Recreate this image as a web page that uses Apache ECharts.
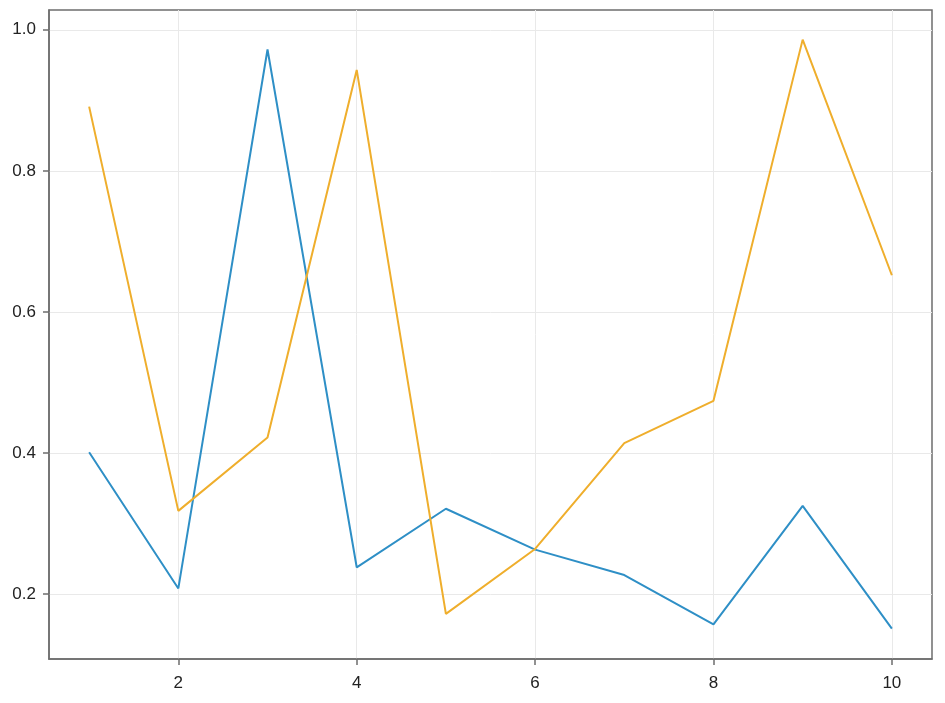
<!DOCTYPE html>
<html>
<head>
<meta charset="utf-8">
<script src="https://cdn.jsdelivr.net/npm/echarts@6/dist/echarts.min.js"></script>
<style>
  html, body { margin: 0; padding: 0; background: #fff; }
  #chart { width: 945px; height: 703px; }
</style>
</head>
<body>
<div id="chart"></div>
<script>
// 数据
var xValues = [1, 2, 3, 4, 5, 6, 7, 8, 9, 10];
var blueValues = [0.401, 0.208, 0.972, 0.238, 0.321, 0.263, 0.227, 0.157, 0.325, 0.151];
var orangeValues = [0.891, 0.318, 0.422, 0.943, 0.172, 0.264, 0.414, 0.474, 0.986, 0.652];
var xTicks = [2, 4, 6, 8, 10];
var yTicks = [0.2, 0.4, 0.6, 0.8, 1.0];

function pairs(ys) {
  return xValues.map(function (x, i) { return [x, ys[i]]; });
}

var gridStyle = { color: '#e9e9e9', width: 1, type: 'solid' };
var frameColor = '#6e6e6e';
var labelStyle = { color: '#222', fontSize: 17, fontFamily: 'Liberation Sans, Arial, sans-serif' };

var myChart = echarts.init(document.getElementById('chart'));
var option = {
  animation: false,
  grid: {
    left: 49, right: 13, top: 10, bottom: 44,
    show: true, borderColor: frameColor, borderWidth: 1.5
  },
  xAxis: {
    type: 'value',
    min: 0.55,
    max: 10.45,
    axisLine: { show: true, lineStyle: { color: frameColor, width: 1.5 } },
    axisTick: { show: true, customValues: xTicks, length: 6, lineStyle: { color: frameColor, width: 1.5 } },
    axisLabel: Object.assign({ customValues: xTicks, margin: 16 }, labelStyle),
    splitLine: { show: true, lineStyle: gridStyle }
  },
  yAxis: {
    type: 'value',
    min: 0.108,
    max: 1.028,
    axisLine: { show: true, lineStyle: { color: frameColor, width: 1.5 } },
    axisTick: { show: true, customValues: yTicks, length: 6, lineStyle: { color: frameColor, width: 1.5 } },
    axisLabel: Object.assign({
      customValues: yTicks, margin: 13,
      formatter: function (v) { return v.toFixed(1); }
    }, labelStyle),
    splitLine: { show: true, lineStyle: gridStyle }
  },
  series: [
    {
      name: 'blue',
      type: 'line',
      data: pairs(blueValues),
      showSymbol: false,
      lineStyle: { color: '#2e8fc6', width: 2 },
      itemStyle: { color: '#2e8fc6' },
      z: 3
    },
    {
      name: 'orange',
      type: 'line',
      data: pairs(orangeValues),
      showSymbol: false,
      lineStyle: { color: '#efae2c', width: 2 },
      itemStyle: { color: '#efae2c' },
      z: 4
    }
  ]
};
myChart.setOption(option);
</script>
</body>
</html>
